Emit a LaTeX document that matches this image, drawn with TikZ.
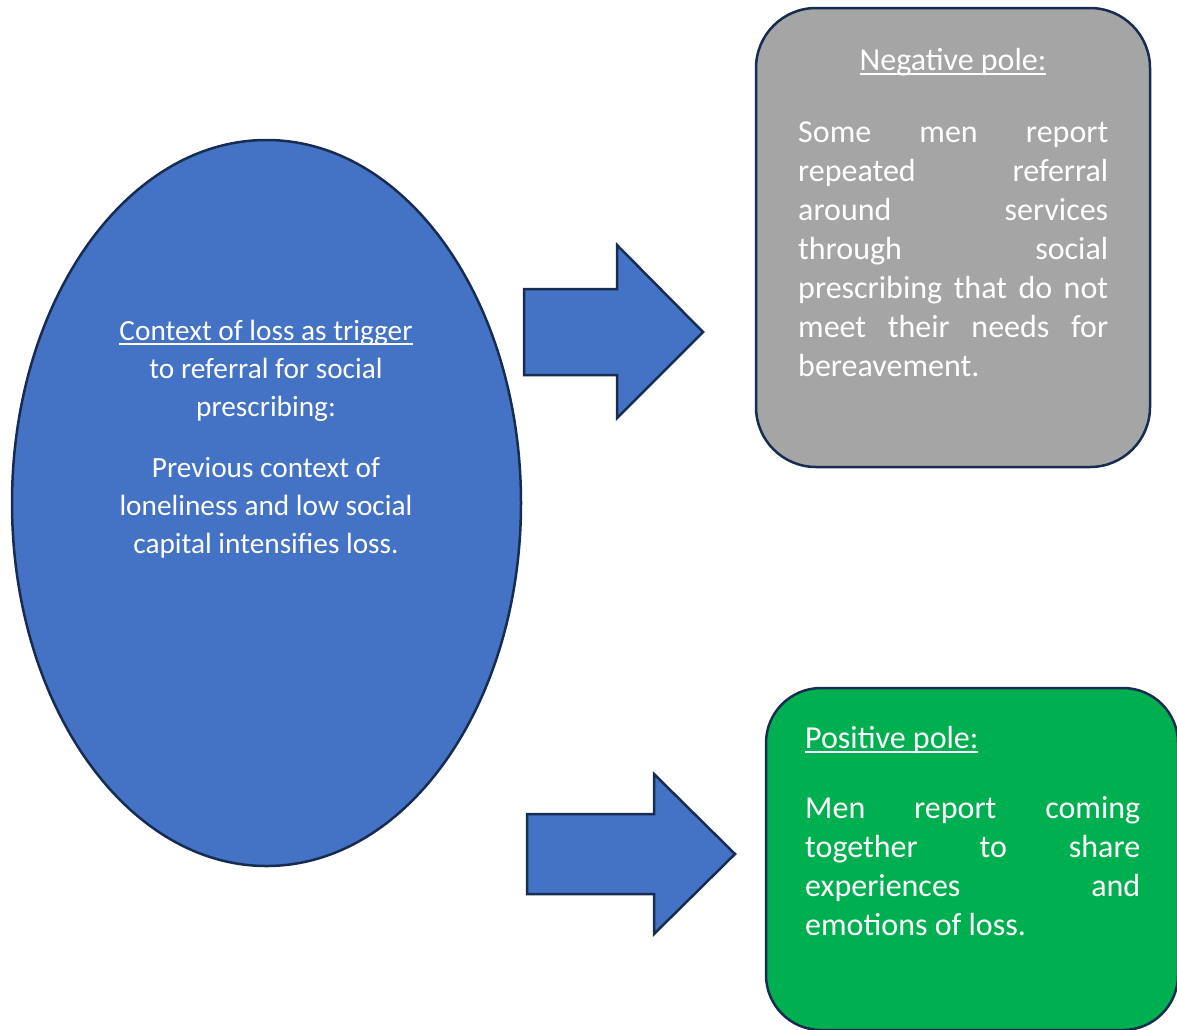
\documentclass[tikz,border=0pt]{standalone}
\usepackage{fontspec}
\setmainfont{Carlito}
\usetikzlibrary{shapes.geometric}
\definecolor{blueF}{HTML}{4472C4}
\definecolor{navy}{HTML}{172C51}
\definecolor{grayF}{HTML}{A5A5A5}
\definecolor{greenF}{HTML}{00B050}
\newsavebox\ulbox
\newcommand\ulx[1]{\leavevmode\sbox\ulbox{#1}\rlap{\rule[-4.5pt]{\wd\ulbox}{2pt}}\usebox\ulbox}
\newcommand\jline[2]{\makebox[#1][s]{#2}\\}
\begin{document}
\begin{tikzpicture}[x=1pt,y=-1pt,
  outl/.style={draw=navy,line width=2.5pt},
  txt/.style={text=white,font=\fontsize{32}{39}\selectfont,inner sep=0pt},
  ctxt/.style={text=white,font=\fontsize{29.3}{38}\selectfont,inner sep=0pt},
  blockarrow/.style={outl,fill=blueF,line join=miter},
]
\useasboundingbox (0,0) rectangle (1177,1029);
\clip (0,0) rectangle (1177,1029);

% left ellipse
\node[ellipse,outl,fill=blueF,minimum width=509pt,minimum height=726pt,inner sep=0pt] (loss) at (266.5,503) {};
\node[ctxt,anchor=base] (losstext) at (266,340) {\parbox[t]{420pt}{\centering
  \ulx{Context of loss as trigger}\\
  to referral for social\\
  prescribing:\\[23pt]
  Previous context of\\
  loneliness and low social\\
  capital intensifies loss.}};

% negative pole box
\node[rectangle,rounded corners=60pt,outl,fill=grayF,minimum width=394pt,minimum height=459pt] (neg) at (953,237.5) {};
\node[txt,anchor=base] (negtitle) at (953,70) {\ulx{Negative pole:}};
\node[txt,anchor=base west] (negtext) at (798,142) {\parbox[t]{310pt}{%
  \jline{310pt}{Some men report}
  \jline{310pt}{repeated referral}
  \jline{310pt}{around services}
  \jline{310pt}{through social}
  \jline{310pt}{prescribing that do not}
  \jline{310pt}{meet their needs for}
  bereavement.}};

% positive pole box
\node[rectangle,rounded corners=55pt,outl,fill=greenF,minimum width=412pt,minimum height=342pt] (pos) at (972,859) {};
\node[txt,anchor=base west] (postitle) at (805,748) {\ulx{Positive pole:}};
\node[txt,anchor=base west] (postext) at (805,818) {\parbox[t]{335pt}{%
  \jline{335pt}{Men report coming}
  \jline{335pt}{together to share}
  \jline{335pt}{experiences and}
  emotions of loss.}};

% block arrows
\draw[blockarrow] (524,289) -- (617,289) -- (617,245) -- (703,332) -- (617,418) -- (617,375) -- (524,375) -- cycle;
\draw[blockarrow] (527,814) -- (654,814) -- (654,774) -- (735,854) -- (654,934) -- (654,894) -- (527,894) -- cycle;
\end{tikzpicture}
\end{document}
